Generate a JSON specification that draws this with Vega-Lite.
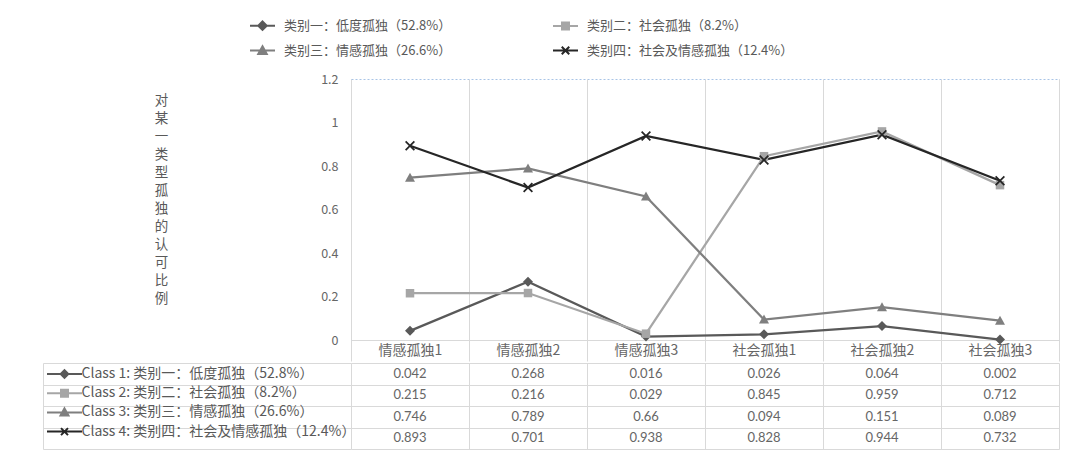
{
  "$schema": "https://vega.github.io/schema/vega-lite/v6.json",
  "background": "white",
  "padding": {"left": 42, "top": 11, "right": 0, "bottom": 0},
  "spacing": 0,
  "config": {
    "font": "Noto Sans CJK SC",
    "view": {"stroke": null}
  },
  "data": {
    "values": [
      {"series": "类别一：低度孤独（52.8%）", "cat": "情感孤独1", "value": 0.042},
      {"series": "类别一：低度孤独（52.8%）", "cat": "情感孤独2", "value": 0.268},
      {"series": "类别一：低度孤独（52.8%）", "cat": "情感孤独3", "value": 0.016},
      {"series": "类别一：低度孤独（52.8%）", "cat": "社会孤独1", "value": 0.026},
      {"series": "类别一：低度孤独（52.8%）", "cat": "社会孤独2", "value": 0.064},
      {"series": "类别一：低度孤独（52.8%）", "cat": "社会孤独3", "value": 0.002},
      {"series": "类别二：社会孤独（8.2%）", "cat": "情感孤独1", "value": 0.215},
      {"series": "类别二：社会孤独（8.2%）", "cat": "情感孤独2", "value": 0.216},
      {"series": "类别二：社会孤独（8.2%）", "cat": "情感孤独3", "value": 0.029},
      {"series": "类别二：社会孤独（8.2%）", "cat": "社会孤独1", "value": 0.845},
      {"series": "类别二：社会孤独（8.2%）", "cat": "社会孤独2", "value": 0.959},
      {"series": "类别二：社会孤独（8.2%）", "cat": "社会孤独3", "value": 0.712},
      {"series": "类别三：情感孤独（26.6%）", "cat": "情感孤独1", "value": 0.746},
      {"series": "类别三：情感孤独（26.6%）", "cat": "情感孤独2", "value": 0.789},
      {"series": "类别三：情感孤独（26.6%）", "cat": "情感孤独3", "value": 0.66},
      {"series": "类别三：情感孤独（26.6%）", "cat": "社会孤独1", "value": 0.094},
      {"series": "类别三：情感孤独（26.6%）", "cat": "社会孤独2", "value": 0.151},
      {"series": "类别三：情感孤独（26.6%）", "cat": "社会孤独3", "value": 0.089},
      {"series": "类别四：社会及情感孤独（12.4%）", "cat": "情感孤独1", "value": 0.893},
      {"series": "类别四：社会及情感孤独（12.4%）", "cat": "情感孤独2", "value": 0.701},
      {"series": "类别四：社会及情感孤独（12.4%）", "cat": "情感孤独3", "value": 0.938},
      {"series": "类别四：社会及情感孤独（12.4%）", "cat": "社会孤独1", "value": 0.828},
      {"series": "类别四：社会及情感孤独（12.4%）", "cat": "社会孤独2", "value": 0.944},
      {"series": "类别四：社会及情感孤独（12.4%）", "cat": "社会孤独3", "value": 0.732}
    ]
  },
  "resolve": {"scale": {"color": "independent"}, "legend": {"color": "independent"}},
  "vconcat": [
    {
      "width": 708,
      "height": 261,
      "view": {"stroke": "#a9c4e6", "strokeDash": [2, 2]},
      "encoding": {
        "x": {
          "field": "cat", "type": "nominal",
          "scale": {"type": "band", "paddingInner": 0, "paddingOuter": 0},
          "axis": {
            "title": null, "labelAngle": 0,
            "domain": true, "domainColor": "#d9d9d9",
            "ticks": true, "tickSize": 21, "tickColor": "#d9d9d9", "tickBand": "extent",
            "grid": true, "gridColor": "#d9d9d9",
            "labelPadding": -10.5, "labelBaseline": "middle",
            "labelFontSize": 14, "labelColor": "#666666"
          }
        },
        "y": {
          "field": "value", "type": "quantitative",
          "scale": {"domain": [0, 1.2], "nice": false},
          "axis": {
            "values": [0, 0.2, 0.4, 0.6, 0.8, 1, 1.2], "format": "~g",
            "grid": false, "domain": false, "ticks": false,
            "labelPadding": 13, "labelFontSize": 12.5, "labelColor": "#666666",
            "title": ["对", "某", "一", "类", "型", "孤", "独", "的", "认", "可", "比", "例"],
            "titleAngle": 0, "titleX": -190, "titleY": 14, "titleAlign": "center", "titleBaseline": "top",
            "titleLineHeight": 18, "titleFontSize": 13.5, "titleFontWeight": "normal", "titleColor": "#595959"
          }
        },
        "color": {
          "field": "series", "type": "nominal",
          "scale": {
            "domain": ["类别一：低度孤独（52.8%）", "类别三：情感孤独（26.6%）", "类别二：社会孤独（8.2%）", "类别四：社会及情感孤独（12.4%）"],
            "range": ["#595959", "#7f7f7f", "#a6a6a6", "#262626"]
          },
          "legend": {
            "orient": "none", "legendX": -102, "legendY": -67,
            "columns": 2, "columnPadding": 97, "rowPadding": 3,
            "title": null, "padding": 0,
            "symbolSize": 625, "symbolStrokeWidth": 2,
            "labelFontSize": 13, "labelColor": "#595959", "labelOffset": 8, "labelLimit": 400,
            "encode": {
              "symbols": {
                "update": {
                  "shape": {"signal": "['M-1,0H1M0,-0.34L0.34,0L0,0.34L-0.34,0Z','M-1,0H1M0,-0.34L0.34,0.28H-0.34Z','M-1,0H1M-0.28,-0.28H0.28V0.28H-0.28Z','M-1,0H1M-0.3,-0.3L0.3,0.3M-0.3,0.3L0.3,-0.3'][datum.index]"},
                  "fill": {"signal": "['#595959','#7f7f7f','#a6a6a6','#262626'][datum.index]"},
                  "stroke": {"signal": "['#595959','#7f7f7f','#a6a6a6','#262626'][datum.index]"},
                  "opacity": {"value": 1}
                }
              }
            }
          }
        }
      },
      "layer": [
        {"mark": {"type": "line", "strokeWidth": 2.25}},
        {
          "mark": {"type": "point", "filled": true, "opacity": 1, "size": 100},
          "encoding": {
            "shape": {
              "field": "series", "type": "nominal", "legend": null,
              "scale": {
                "domain": ["类别一：低度孤独（52.8%）", "类别二：社会孤独（8.2%）", "类别三：情感孤独（26.6%）", "类别四：社会及情感孤独（12.4%）"],
                "range": [
                  "M0,-1L1,0L0,1L-1,0Z",
                  "M-0.85,-0.85H0.85V0.85H-0.85Z",
                  "M0,-1L1,0.8H-1Z",
                  "M-1,-0.75L-0.75,-1L0,-0.25L0.75,-1L1,-0.75L0.25,0L1,0.75L0.75,1L0,0.25L-0.75,1L-1,0.75L-0.25,0Z"
                ]
              }
            }
          }
        }
      ]
    },
    {
      "width": 708,
      "height": 86,
      "view": {"stroke": null},
      "encoding": {
        "x": {
          "field": "cat", "type": "nominal",
          "scale": {"type": "band", "paddingInner": 0, "paddingOuter": 0},
          "axis": {
            "title": null, "labels": false, "ticks": false, "domain": false,
            "grid": true, "gridColor": "#d9d9d9", "tickBand": "extent"
          }
        },
        "y": {
          "field": "series", "type": "nominal",
          "scale": {
            "type": "band", "paddingInner": 0, "paddingOuter": 0,
            "domain": ["类别一：低度孤独（52.8%）", "类别二：社会孤独（8.2%）", "类别三：情感孤独（26.6%）", "类别四：社会及情感孤独（12.4%）"]
          },
          "axis": {
            "title": null, "labels": false, "offset": 308,
            "domain": true, "domainColor": "#d9d9d9",
            "ticks": true, "tickSize": -308, "tickColor": "#d9d9d9", "tickBand": "extent",
            "grid": true, "gridColor": "#d9d9d9"
          }
        }
      },
      "layer": [
        {
          "mark": {"type": "text", "font": "Lato", "fontSize": 13, "color": "#666666"},
          "encoding": {"text": {"field": "value", "type": "quantitative", "format": ".3~f"}}
        },
        {
          "mark": {"type": "point", "filled": true, "opacity": 0},
          "encoding": {
            "color": {
              "field": "series", "type": "nominal",
              "scale": {
                "domain": ["类别一：低度孤独（52.8%）", "类别二：社会孤独（8.2%）", "类别三：情感孤独（26.6%）", "类别四：社会及情感孤独（12.4%）"],
                "range": ["#595959", "#a6a6a6", "#7f7f7f", "#262626"]
              },
              "legend": {
                "orient": "none", "legendX": -297.5, "legendY": 0,
                "direction": "vertical", "rowPadding": 0.2,
                "title": null, "padding": 0,
                "symbolSize": 400, "symbolStrokeWidth": 2, "symbolOpacity": 1,
                "labelFontSize": 14, "labelColor": "#595959", "labelOffset": 6, "labelLimit": 400,
                "encode": {
                  "labels": {
                    "update": {
                      "text": {"signal": "'Class ' + (datum.index + 1) + ': ' + datum.label"}
                    }
                  },
                  "symbols": {
                    "update": {
                      "shape": {"signal": "['M-1.75,0H1.75M0,-0.38L0.38,0L0,0.38L-0.38,0Z','M-1.75,0H1.75M-0.35,-0.35H0.35V0.35H-0.35Z','M-1.75,0H1.75M0,-0.4L0.4,0.32H-0.4Z','M-1.75,0H1.75M-0.35,-0.35L0.35,0.35M-0.35,0.35L0.35,-0.35'][datum.index]"},
                      "fill": {"signal": "['#595959','#a6a6a6','#7f7f7f','#262626'][datum.index]"},
                      "stroke": {"signal": "['#595959','#a6a6a6','#7f7f7f','#262626'][datum.index]"},
                      "opacity": {"value": 1}
                    }
                  }
                }
              }
            }
          }
        }
      ]
    }
  ]
}
